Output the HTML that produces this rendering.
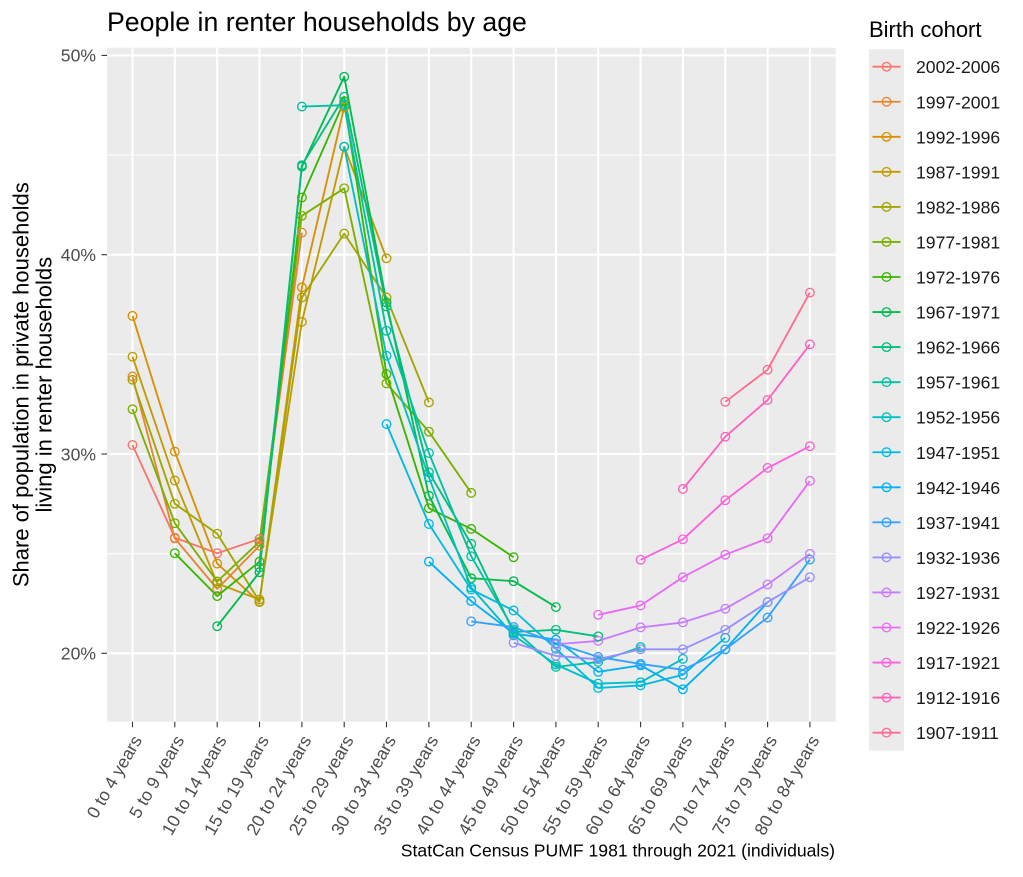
<!DOCTYPE html>
<html>
<head>
<meta charset="utf-8">
<style>
  html, body { margin: 0; padding: 0; background: #ffffff; }
  svg { display: block; font-family: "Liberation Sans", Arial, sans-serif; }
  .ln polyline { fill: none; stroke-width: 1.85; stroke-linejoin: round; stroke-linecap: butt; }
  .pt polyline { fill: none; stroke: none; }
  .xl { font-size: 17.6px; fill: #4D4D4D; text-anchor: end; }
  .yl { font-size: 17.6px; fill: #4D4D4D; text-anchor: end; }
  .lg { font-size: 17.6px; fill: #1A1A1A; }
</style>
</head>
<body>
<svg width="1023" height="877" viewBox="0 0 1023 877" xmlns="http://www.w3.org/2000/svg">
  <defs>
    <marker id="m0" markerUnits="userSpaceOnUse" markerWidth="12" markerHeight="12" refX="6" refY="6" overflow="visible"><circle cx="6" cy="6" r="4.3" fill="none" stroke="#F8766D" stroke-width="1.35"/></marker>
    <marker id="m1" markerUnits="userSpaceOnUse" markerWidth="12" markerHeight="12" refX="6" refY="6" overflow="visible"><circle cx="6" cy="6" r="4.3" fill="none" stroke="#EA8331" stroke-width="1.35"/></marker>
    <marker id="m2" markerUnits="userSpaceOnUse" markerWidth="12" markerHeight="12" refX="6" refY="6" overflow="visible"><circle cx="6" cy="6" r="4.3" fill="none" stroke="#D89000" stroke-width="1.35"/></marker>
    <marker id="m3" markerUnits="userSpaceOnUse" markerWidth="12" markerHeight="12" refX="6" refY="6" overflow="visible"><circle cx="6" cy="6" r="4.3" fill="none" stroke="#C09B00" stroke-width="1.35"/></marker>
    <marker id="m4" markerUnits="userSpaceOnUse" markerWidth="12" markerHeight="12" refX="6" refY="6" overflow="visible"><circle cx="6" cy="6" r="4.3" fill="none" stroke="#A3A500" stroke-width="1.35"/></marker>
    <marker id="m5" markerUnits="userSpaceOnUse" markerWidth="12" markerHeight="12" refX="6" refY="6" overflow="visible"><circle cx="6" cy="6" r="4.3" fill="none" stroke="#7CAE00" stroke-width="1.35"/></marker>
    <marker id="m6" markerUnits="userSpaceOnUse" markerWidth="12" markerHeight="12" refX="6" refY="6" overflow="visible"><circle cx="6" cy="6" r="4.3" fill="none" stroke="#39B600" stroke-width="1.35"/></marker>
    <marker id="m7" markerUnits="userSpaceOnUse" markerWidth="12" markerHeight="12" refX="6" refY="6" overflow="visible"><circle cx="6" cy="6" r="4.3" fill="none" stroke="#00BB4E" stroke-width="1.35"/></marker>
    <marker id="m8" markerUnits="userSpaceOnUse" markerWidth="12" markerHeight="12" refX="6" refY="6" overflow="visible"><circle cx="6" cy="6" r="4.3" fill="none" stroke="#00BF7D" stroke-width="1.35"/></marker>
    <marker id="m9" markerUnits="userSpaceOnUse" markerWidth="12" markerHeight="12" refX="6" refY="6" overflow="visible"><circle cx="6" cy="6" r="4.3" fill="none" stroke="#00C1A3" stroke-width="1.35"/></marker>
    <marker id="m10" markerUnits="userSpaceOnUse" markerWidth="12" markerHeight="12" refX="6" refY="6" overflow="visible"><circle cx="6" cy="6" r="4.3" fill="none" stroke="#00BFC4" stroke-width="1.35"/></marker>
    <marker id="m11" markerUnits="userSpaceOnUse" markerWidth="12" markerHeight="12" refX="6" refY="6" overflow="visible"><circle cx="6" cy="6" r="4.3" fill="none" stroke="#00BAE0" stroke-width="1.35"/></marker>
    <marker id="m12" markerUnits="userSpaceOnUse" markerWidth="12" markerHeight="12" refX="6" refY="6" overflow="visible"><circle cx="6" cy="6" r="4.3" fill="none" stroke="#00B0F6" stroke-width="1.35"/></marker>
    <marker id="m13" markerUnits="userSpaceOnUse" markerWidth="12" markerHeight="12" refX="6" refY="6" overflow="visible"><circle cx="6" cy="6" r="4.3" fill="none" stroke="#35A2FF" stroke-width="1.35"/></marker>
    <marker id="m14" markerUnits="userSpaceOnUse" markerWidth="12" markerHeight="12" refX="6" refY="6" overflow="visible"><circle cx="6" cy="6" r="4.3" fill="none" stroke="#9590FF" stroke-width="1.35"/></marker>
    <marker id="m15" markerUnits="userSpaceOnUse" markerWidth="12" markerHeight="12" refX="6" refY="6" overflow="visible"><circle cx="6" cy="6" r="4.3" fill="none" stroke="#C77CFF" stroke-width="1.35"/></marker>
    <marker id="m16" markerUnits="userSpaceOnUse" markerWidth="12" markerHeight="12" refX="6" refY="6" overflow="visible"><circle cx="6" cy="6" r="4.3" fill="none" stroke="#E76BF3" stroke-width="1.35"/></marker>
    <marker id="m17" markerUnits="userSpaceOnUse" markerWidth="12" markerHeight="12" refX="6" refY="6" overflow="visible"><circle cx="6" cy="6" r="4.3" fill="none" stroke="#FA62DB" stroke-width="1.35"/></marker>
    <marker id="m18" markerUnits="userSpaceOnUse" markerWidth="12" markerHeight="12" refX="6" refY="6" overflow="visible"><circle cx="6" cy="6" r="4.3" fill="none" stroke="#FF62BC" stroke-width="1.35"/></marker>
    <marker id="m19" markerUnits="userSpaceOnUse" markerWidth="12" markerHeight="12" refX="6" refY="6" overflow="visible"><circle cx="6" cy="6" r="4.3" fill="none" stroke="#FF6C91" stroke-width="1.35"/></marker>
  </defs>

  <!-- Title -->
  <text x="107" y="31" font-size="26.7" fill="#000">People in renter households by age</text>

  <!-- Panel -->
  <rect x="107.1" y="47.7" width="728.6" height="674" fill="#EBEBEB"/>
  <g stroke="#ffffff" stroke-width="1.1">
    <line x1="107.1" x2="835.7" y1="553.7" y2="553.7"/>
    <line x1="107.1" x2="835.7" y1="354.3" y2="354.3"/>
    <line x1="107.1" x2="835.7" y1="155.0" y2="155.0"/>
  </g>
  <g stroke="#ffffff" stroke-width="2.1">
    <line x1="107.1" x2="835.7" y1="653.3" y2="653.3"/>
    <line x1="107.1" x2="835.7" y1="454.0" y2="454.0"/>
    <line x1="107.1" x2="835.7" y1="254.7" y2="254.7"/>
    <line x1="107.1" x2="835.7" y1="55.4" y2="55.4"/>
    <line x1="132.5" x2="132.5" y1="47.7" y2="721.7"/>
    <line x1="174.8" x2="174.8" y1="47.7" y2="721.7"/>
    <line x1="217.2" x2="217.2" y1="47.7" y2="721.7"/>
    <line x1="259.5" x2="259.5" y1="47.7" y2="721.7"/>
    <line x1="301.9" x2="301.9" y1="47.7" y2="721.7"/>
    <line x1="344.2" x2="344.2" y1="47.7" y2="721.7"/>
    <line x1="386.5" x2="386.5" y1="47.7" y2="721.7"/>
    <line x1="428.9" x2="428.9" y1="47.7" y2="721.7"/>
    <line x1="471.2" x2="471.2" y1="47.7" y2="721.7"/>
    <line x1="513.6" x2="513.6" y1="47.7" y2="721.7"/>
    <line x1="555.9" x2="555.9" y1="47.7" y2="721.7"/>
    <line x1="598.2" x2="598.2" y1="47.7" y2="721.7"/>
    <line x1="640.6" x2="640.6" y1="47.7" y2="721.7"/>
    <line x1="682.9" x2="682.9" y1="47.7" y2="721.7"/>
    <line x1="725.3" x2="725.3" y1="47.7" y2="721.7"/>
    <line x1="767.6" x2="767.6" y1="47.7" y2="721.7"/>
    <line x1="809.9" x2="809.9" y1="47.7" y2="721.7"/>
  </g>

  <!-- Series lines -->
  <g class="ln">
    <polyline stroke="#F8766D" points="132.5,445.0 174.8,537.7 217.2,553.2 259.5,538.9"/>
    <polyline stroke="#EA8331" points="132.5,376.5 174.8,538.3 217.2,588.9 259.5,545.7 301.9,232.6"/>
    <polyline stroke="#D89000" points="132.5,315.9 174.8,451.6 217.2,563.6 259.5,602.1 301.9,287.4 344.2,107.2"/>
    <polyline stroke="#C09B00" points="132.5,356.7 174.8,480.5 217.2,583.5 259.5,599.5 301.9,321.9 344.2,146.7 386.5,258.3"/>
    <polyline stroke="#A3A500" points="132.5,379.7 174.8,503.8 217.2,533.7 259.5,601.5 301.9,297.5 344.2,233.6 386.5,297.5 428.9,402.4"/>
    <polyline stroke="#7CAE00" points="132.5,409.2 174.8,523.2 217.2,581.5 259.5,541.7 301.9,215.8 344.2,188.3 386.5,383.4 428.9,431.7 471.2,492.9"/>
    <polyline stroke="#39B600" points="174.8,553.2 217.2,596.1 259.5,561.6 301.9,197.5 344.2,101.2 386.5,374.1 428.9,508.2 471.2,528.9 513.6,557.2"/>
    <polyline stroke="#00BB4E" points="217.2,626.2 259.5,572.2 301.9,166.6 344.2,76.7 386.5,302.5 428.9,495.7 471.2,578.2 513.6,581.2 555.9,607.1"/>
    <polyline stroke="#00BF7D" points="259.5,567.6 301.9,165.2 344.2,96.7 386.5,306.5 428.9,472.3 471.2,543.9 513.6,632.0 555.9,629.8 598.2,636.4"/>
    <polyline stroke="#00C1A3" points="301.9,106.6 344.2,105.2 386.5,330.8 428.9,453.0 471.2,556.2 513.6,629.4 555.9,666.9 598.2,661.9 640.6,647.1"/>
    <polyline stroke="#00BFC4" points="344.2,146.7 386.5,355.7 428.9,477.3 471.2,587.5 513.6,635.4 555.9,664.5 598.2,683.6 640.6,682.2 682.9,658.9"/>
    <polyline stroke="#00BAE0" points="386.5,424.1 428.9,524.0 471.2,589.5 513.6,610.5 555.9,648.7 598.2,688.0 640.6,685.4 682.9,674.8 725.3,637.8"/>
    <polyline stroke="#00B0F6" points="428.9,561.6 471.2,601.1 513.6,633.4 555.9,639.7 598.2,671.8 640.6,665.3 682.9,689.2 725.3,649.3 767.6,602.1"/>
    <polyline stroke="#35A2FF" points="471.2,621.4 513.6,627.0 555.9,643.3 598.2,656.9 640.6,663.9 682.9,669.8 725.3,649.3 767.6,617.6 809.9,559.6"/>
    <polyline stroke="#9590FF" points="513.6,642.7 555.9,655.9 598.2,659.3 640.6,649.3 682.9,649.3 725.3,629.8 767.6,602.1 809.9,577.2"/>
    <polyline stroke="#C77CFF" points="555.9,644.3 598.2,640.9 640.6,627.4 682.9,622.4 725.3,608.7 767.6,584.5 809.9,553.9"/>
    <polyline stroke="#E76BF3" points="598.2,614.8 640.6,605.5 682.9,577.2 725.3,554.7 767.6,538.3 809.9,480.9"/>
    <polyline stroke="#FA62DB" points="640.6,559.8 682.9,539.3 725.3,500.2 767.6,467.9 809.9,446.2"/>
    <polyline stroke="#FF62BC" points="682.9,488.9 725.3,436.7 767.6,400.0 809.9,344.4"/>
    <polyline stroke="#FF6C91" points="725.3,401.8 767.6,369.7 809.9,292.6"/>
  </g>

  <!-- Series points -->
  <g class="pt">
    <polyline marker-start="url(#m0)" marker-mid="url(#m0)" marker-end="url(#m0)" points="132.5,445.0 174.8,537.7 217.2,553.2 259.5,538.9"/>
    <polyline marker-start="url(#m1)" marker-mid="url(#m1)" marker-end="url(#m1)" points="132.5,376.5 174.8,538.3 217.2,588.9 259.5,545.7 301.9,232.6"/>
    <polyline marker-start="url(#m2)" marker-mid="url(#m2)" marker-end="url(#m2)" points="132.5,315.9 174.8,451.6 217.2,563.6 259.5,602.1 301.9,287.4 344.2,107.2"/>
    <polyline marker-start="url(#m3)" marker-mid="url(#m3)" marker-end="url(#m3)" points="132.5,356.7 174.8,480.5 217.2,583.5 259.5,599.5 301.9,321.9 344.2,146.7 386.5,258.3"/>
    <polyline marker-start="url(#m4)" marker-mid="url(#m4)" marker-end="url(#m4)" points="132.5,379.7 174.8,503.8 217.2,533.7 259.5,601.5 301.9,297.5 344.2,233.6 386.5,297.5 428.9,402.4"/>
    <polyline marker-start="url(#m5)" marker-mid="url(#m5)" marker-end="url(#m5)" points="132.5,409.2 174.8,523.2 217.2,581.5 259.5,541.7 301.9,215.8 344.2,188.3 386.5,383.4 428.9,431.7 471.2,492.9"/>
    <polyline marker-start="url(#m6)" marker-mid="url(#m6)" marker-end="url(#m6)" points="174.8,553.2 217.2,596.1 259.5,561.6 301.9,197.5 344.2,101.2 386.5,374.1 428.9,508.2 471.2,528.9 513.6,557.2"/>
    <polyline marker-start="url(#m7)" marker-mid="url(#m7)" marker-end="url(#m7)" points="217.2,626.2 259.5,572.2 301.9,166.6 344.2,76.7 386.5,302.5 428.9,495.7 471.2,578.2 513.6,581.2 555.9,607.1"/>
    <polyline marker-start="url(#m8)" marker-mid="url(#m8)" marker-end="url(#m8)" points="259.5,567.6 301.9,165.2 344.2,96.7 386.5,306.5 428.9,472.3 471.2,543.9 513.6,632.0 555.9,629.8 598.2,636.4"/>
    <polyline marker-start="url(#m9)" marker-mid="url(#m9)" marker-end="url(#m9)" points="301.9,106.6 344.2,105.2 386.5,330.8 428.9,453.0 471.2,556.2 513.6,629.4 555.9,666.9 598.2,661.9 640.6,647.1"/>
    <polyline marker-start="url(#m10)" marker-mid="url(#m10)" marker-end="url(#m10)" points="344.2,146.7 386.5,355.7 428.9,477.3 471.2,587.5 513.6,635.4 555.9,664.5 598.2,683.6 640.6,682.2 682.9,658.9"/>
    <polyline marker-start="url(#m11)" marker-mid="url(#m11)" marker-end="url(#m11)" points="386.5,424.1 428.9,524.0 471.2,589.5 513.6,610.5 555.9,648.7 598.2,688.0 640.6,685.4 682.9,674.8 725.3,637.8"/>
    <polyline marker-start="url(#m12)" marker-mid="url(#m12)" marker-end="url(#m12)" points="428.9,561.6 471.2,601.1 513.6,633.4 555.9,639.7 598.2,671.8 640.6,665.3 682.9,689.2 725.3,649.3 767.6,602.1"/>
    <polyline marker-start="url(#m13)" marker-mid="url(#m13)" marker-end="url(#m13)" points="471.2,621.4 513.6,627.0 555.9,643.3 598.2,656.9 640.6,663.9 682.9,669.8 725.3,649.3 767.6,617.6 809.9,559.6"/>
    <polyline marker-start="url(#m14)" marker-mid="url(#m14)" marker-end="url(#m14)" points="513.6,642.7 555.9,655.9 598.2,659.3 640.6,649.3 682.9,649.3 725.3,629.8 767.6,602.1 809.9,577.2"/>
    <polyline marker-start="url(#m15)" marker-mid="url(#m15)" marker-end="url(#m15)" points="555.9,644.3 598.2,640.9 640.6,627.4 682.9,622.4 725.3,608.7 767.6,584.5 809.9,553.9"/>
    <polyline marker-start="url(#m16)" marker-mid="url(#m16)" marker-end="url(#m16)" points="598.2,614.8 640.6,605.5 682.9,577.2 725.3,554.7 767.6,538.3 809.9,480.9"/>
    <polyline marker-start="url(#m17)" marker-mid="url(#m17)" marker-end="url(#m17)" points="640.6,559.8 682.9,539.3 725.3,500.2 767.6,467.9 809.9,446.2"/>
    <polyline marker-start="url(#m18)" marker-mid="url(#m18)" marker-end="url(#m18)" points="682.9,488.9 725.3,436.7 767.6,400.0 809.9,344.4"/>
    <polyline marker-start="url(#m19)" marker-mid="url(#m19)" marker-end="url(#m19)" points="725.3,401.8 767.6,369.7 809.9,292.6"/>
  </g>

  <!-- Y axis -->
  <g stroke="#333333" stroke-width="1.1">
    <line x1="101.5" x2="107.1" y1="653.3" y2="653.3"/>
    <line x1="101.5" x2="107.1" y1="454.0" y2="454.0"/>
    <line x1="101.5" x2="107.1" y1="254.7" y2="254.7"/>
    <line x1="101.5" x2="107.1" y1="55.4" y2="55.4"/>
  </g>
  <text class="yl" x="96" y="659.6">20%</text>
  <text class="yl" x="96" y="460.3">30%</text>
  <text class="yl" x="96" y="261.0">40%</text>
  <text class="yl" x="96" y="61.7">50%</text>

  <!-- X axis ticks -->
  <g stroke="#333333" stroke-width="1.1">
    <line x1="132.5" x2="132.5" y1="721.7" y2="727.3"/>
    <line x1="174.8" x2="174.8" y1="721.7" y2="727.3"/>
    <line x1="217.2" x2="217.2" y1="721.7" y2="727.3"/>
    <line x1="259.5" x2="259.5" y1="721.7" y2="727.3"/>
    <line x1="301.9" x2="301.9" y1="721.7" y2="727.3"/>
    <line x1="344.2" x2="344.2" y1="721.7" y2="727.3"/>
    <line x1="386.5" x2="386.5" y1="721.7" y2="727.3"/>
    <line x1="428.9" x2="428.9" y1="721.7" y2="727.3"/>
    <line x1="471.2" x2="471.2" y1="721.7" y2="727.3"/>
    <line x1="513.6" x2="513.6" y1="721.7" y2="727.3"/>
    <line x1="555.9" x2="555.9" y1="721.7" y2="727.3"/>
    <line x1="598.2" x2="598.2" y1="721.7" y2="727.3"/>
    <line x1="640.6" x2="640.6" y1="721.7" y2="727.3"/>
    <line x1="682.9" x2="682.9" y1="721.7" y2="727.3"/>
    <line x1="725.3" x2="725.3" y1="721.7" y2="727.3"/>
    <line x1="767.6" x2="767.6" y1="721.7" y2="727.3"/>
    <line x1="809.9" x2="809.9" y1="721.7" y2="727.3"/>
  </g>

  <!-- X axis labels -->
  <text class="xl" transform="translate(142.5,740) rotate(-60)">0 to 4 years</text>
  <text class="xl" transform="translate(184.8,740) rotate(-60)">5 to 9 years</text>
  <text class="xl" transform="translate(227.2,740) rotate(-60)">10 to 14 years</text>
  <text class="xl" transform="translate(269.5,740) rotate(-60)">15 to 19 years</text>
  <text class="xl" transform="translate(311.9,740) rotate(-60)">20 to 24 years</text>
  <text class="xl" transform="translate(354.2,740) rotate(-60)">25 to 29 years</text>
  <text class="xl" transform="translate(396.5,740) rotate(-60)">30 to 34 years</text>
  <text class="xl" transform="translate(438.9,740) rotate(-60)">35 to 39 years</text>
  <text class="xl" transform="translate(481.2,740) rotate(-60)">40 to 44 years</text>
  <text class="xl" transform="translate(523.6,740) rotate(-60)">45 to 49 years</text>
  <text class="xl" transform="translate(565.9,740) rotate(-60)">50 to 54 years</text>
  <text class="xl" transform="translate(608.2,740) rotate(-60)">55 to 59 years</text>
  <text class="xl" transform="translate(650.6,740) rotate(-60)">60 to 64 years</text>
  <text class="xl" transform="translate(692.9,740) rotate(-60)">65 to 69 years</text>
  <text class="xl" transform="translate(735.3,740) rotate(-60)">70 to 74 years</text>
  <text class="xl" transform="translate(777.6,740) rotate(-60)">75 to 79 years</text>
  <text class="xl" transform="translate(819.9,740) rotate(-60)">80 to 84 years</text>

  <!-- Y axis title -->
  <text font-size="22" fill="#000" text-anchor="middle" transform="translate(28.3,384.7) rotate(-90)">Share of population in private households</text>
  <text font-size="22" fill="#000" text-anchor="middle" transform="translate(51.7,384.7) rotate(-90)">living in renter households</text>

  <!-- Caption -->
  <text x="835" y="856.5" font-size="17.6" fill="#000" text-anchor="end">StatCan Census PUMF 1981 through 2021 (individuals)</text>

  <!-- Legend -->
  <text x="869" y="37" font-size="22" fill="#000">Birth cohort</text>
  <rect x="869" y="49.2" width="35" height="701.5" fill="#EBEBEB"/>
  <g stroke-width="1.85">
    <line x1="872.5" x2="900.5" y1="66.7" y2="66.7" stroke="#F8766D"/>
    <line x1="872.5" x2="900.5" y1="101.75" y2="101.75" stroke="#EA8331"/>
    <line x1="872.5" x2="900.5" y1="136.8" y2="136.8" stroke="#D89000"/>
    <line x1="872.5" x2="900.5" y1="171.85" y2="171.85" stroke="#C09B00"/>
    <line x1="872.5" x2="900.5" y1="206.9" y2="206.9" stroke="#A3A500"/>
    <line x1="872.5" x2="900.5" y1="241.95" y2="241.95" stroke="#7CAE00"/>
    <line x1="872.5" x2="900.5" y1="277.0" y2="277.0" stroke="#39B600"/>
    <line x1="872.5" x2="900.5" y1="312.05" y2="312.05" stroke="#00BB4E"/>
    <line x1="872.5" x2="900.5" y1="347.1" y2="347.1" stroke="#00BF7D"/>
    <line x1="872.5" x2="900.5" y1="382.15" y2="382.15" stroke="#00C1A3"/>
    <line x1="872.5" x2="900.5" y1="417.2" y2="417.2" stroke="#00BFC4"/>
    <line x1="872.5" x2="900.5" y1="452.25" y2="452.25" stroke="#00BAE0"/>
    <line x1="872.5" x2="900.5" y1="487.3" y2="487.3" stroke="#00B0F6"/>
    <line x1="872.5" x2="900.5" y1="522.35" y2="522.35" stroke="#35A2FF"/>
    <line x1="872.5" x2="900.5" y1="557.4" y2="557.4" stroke="#9590FF"/>
    <line x1="872.5" x2="900.5" y1="592.45" y2="592.45" stroke="#C77CFF"/>
    <line x1="872.5" x2="900.5" y1="627.5" y2="627.5" stroke="#E76BF3"/>
    <line x1="872.5" x2="900.5" y1="662.55" y2="662.55" stroke="#FA62DB"/>
    <line x1="872.5" x2="900.5" y1="697.6" y2="697.6" stroke="#FF62BC"/>
    <line x1="872.5" x2="900.5" y1="732.65" y2="732.65" stroke="#FF6C91"/>
  </g>
  <g fill="none" stroke-width="1.35">
    <circle cx="886.5" cy="66.7" r="4.3" stroke="#F8766D"/>
    <circle cx="886.5" cy="101.75" r="4.3" stroke="#EA8331"/>
    <circle cx="886.5" cy="136.8" r="4.3" stroke="#D89000"/>
    <circle cx="886.5" cy="171.85" r="4.3" stroke="#C09B00"/>
    <circle cx="886.5" cy="206.9" r="4.3" stroke="#A3A500"/>
    <circle cx="886.5" cy="241.95" r="4.3" stroke="#7CAE00"/>
    <circle cx="886.5" cy="277.0" r="4.3" stroke="#39B600"/>
    <circle cx="886.5" cy="312.05" r="4.3" stroke="#00BB4E"/>
    <circle cx="886.5" cy="347.1" r="4.3" stroke="#00BF7D"/>
    <circle cx="886.5" cy="382.15" r="4.3" stroke="#00C1A3"/>
    <circle cx="886.5" cy="417.2" r="4.3" stroke="#00BFC4"/>
    <circle cx="886.5" cy="452.25" r="4.3" stroke="#00BAE0"/>
    <circle cx="886.5" cy="487.3" r="4.3" stroke="#00B0F6"/>
    <circle cx="886.5" cy="522.35" r="4.3" stroke="#35A2FF"/>
    <circle cx="886.5" cy="557.4" r="4.3" stroke="#9590FF"/>
    <circle cx="886.5" cy="592.45" r="4.3" stroke="#C77CFF"/>
    <circle cx="886.5" cy="627.5" r="4.3" stroke="#E76BF3"/>
    <circle cx="886.5" cy="662.55" r="4.3" stroke="#FA62DB"/>
    <circle cx="886.5" cy="697.6" r="4.3" stroke="#FF62BC"/>
    <circle cx="886.5" cy="732.65" r="4.3" stroke="#FF6C91"/>
  </g>
  <text class="lg" x="916" y="73.2">2002-2006</text>
  <text class="lg" x="916" y="108.25">1997-2001</text>
  <text class="lg" x="916" y="143.3">1992-1996</text>
  <text class="lg" x="916" y="178.35">1987-1991</text>
  <text class="lg" x="916" y="213.4">1982-1986</text>
  <text class="lg" x="916" y="248.45">1977-1981</text>
  <text class="lg" x="916" y="283.5">1972-1976</text>
  <text class="lg" x="916" y="318.55">1967-1971</text>
  <text class="lg" x="916" y="353.6">1962-1966</text>
  <text class="lg" x="916" y="388.65">1957-1961</text>
  <text class="lg" x="916" y="423.7">1952-1956</text>
  <text class="lg" x="916" y="458.75">1947-1951</text>
  <text class="lg" x="916" y="493.8">1942-1946</text>
  <text class="lg" x="916" y="528.85">1937-1941</text>
  <text class="lg" x="916" y="563.9">1932-1936</text>
  <text class="lg" x="916" y="598.95">1927-1931</text>
  <text class="lg" x="916" y="634.0">1922-1926</text>
  <text class="lg" x="916" y="669.05">1917-1921</text>
  <text class="lg" x="916" y="704.1">1912-1916</text>
  <text class="lg" x="916" y="739.15">1907-1911</text>
</svg>
</body>
</html>
